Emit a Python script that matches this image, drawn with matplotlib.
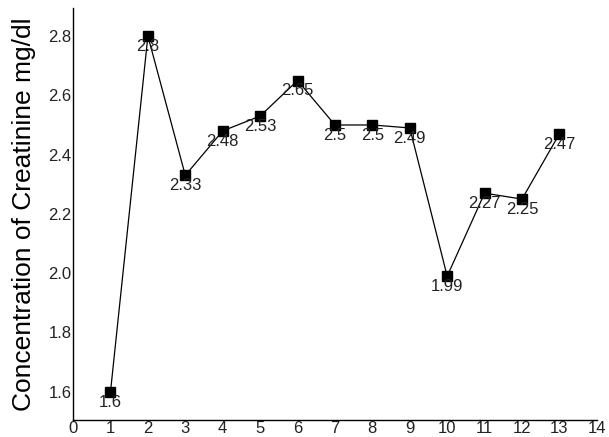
import matplotlib
matplotlib.use("Agg")
import matplotlib.pyplot as plt

# sample number vs creatinine concentration
samples = [1, 2, 3, 4, 5, 6, 7, 8, 9, 10, 11, 12, 13]
creatinine = [1.6, 2.8, 2.33, 2.48, 2.53, 2.65, 2.5, 2.5, 2.49, 1.99, 2.27, 2.25, 2.47]
value_labels = ["1.6", "2.8", "2.33", "2.48", "2.53", "2.65", "2.5", "2.5",
                "2.49", "1.99", "2.27", "2.25", "2.47"]
x_ticks = list(range(0, 15))
y_ticks = [1.6, 1.8, 2.0, 2.2, 2.4, 2.6, 2.8]

plt.rcParams['font.family'] = ['Liberation Sans', 'DejaVu Sans']

fig = plt.figure(figsize=(6.09, 4.37), dpi=100)
ax = fig.add_axes([0.12, 0.039, 0.86, 0.943])

ax.plot(samples, creatinine, color='black', linewidth=0.9,
        marker='s', markersize=7, markerfacecolor='black', markeredgecolor='black')

for x, y, lab in zip(samples, creatinine, value_labels):
    ax.annotate(lab, (x, y), xytext=(0, -2), textcoords='offset points',
                ha='center', va='top', fontsize=12, color='#222222')

ax.set_xlim(0, 14)
ax.set_ylim(1.505, 2.895)
ax.set_xticks(x_ticks)
ax.set_yticks(y_ticks)
ax.set_yticklabels([f"{v:.1f}" for v in y_ticks])
ax.tick_params(length=0, labelsize=12, colors='#222222', pad=1)
ax.set_ylabel("Concentration of Creatinine mg/dl", fontsize=19)
ax.yaxis.set_label_coords(-0.07, 0.5)

for side in ['top', 'right']:
    ax.spines[side].set_visible(False)
for side in ['left', 'bottom']:
    ax.spines[side].set_linewidth(1.0)
    ax.spines[side].set_color('black')

fig.savefig("out.png", dpi=100)
